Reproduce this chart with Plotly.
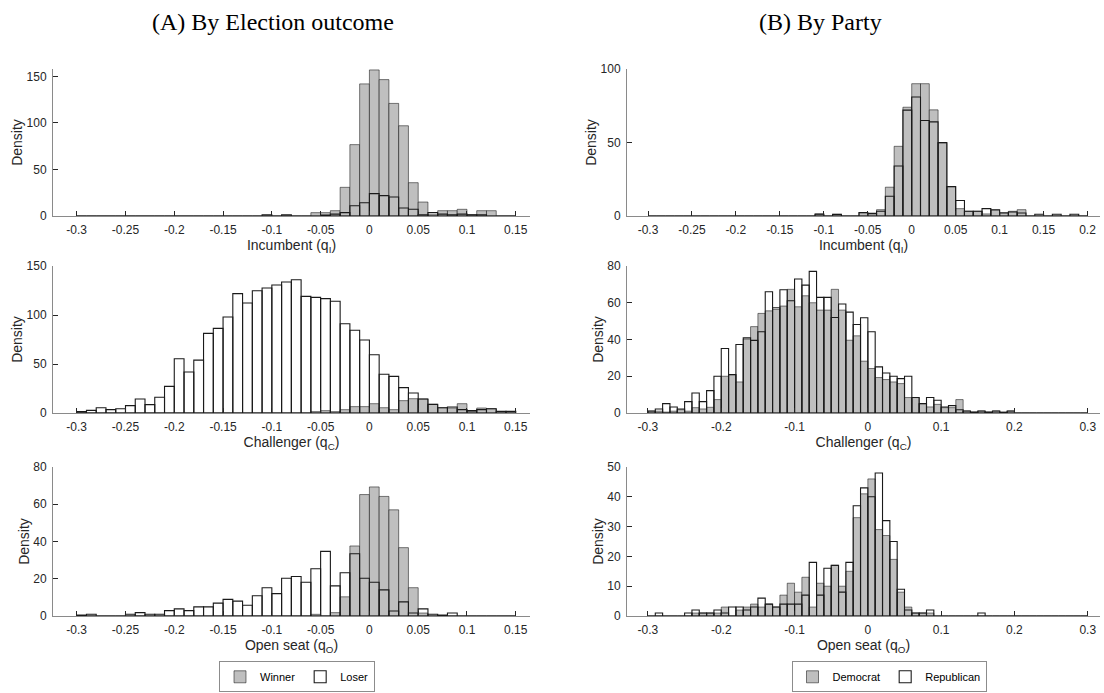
import numpy as np
import plotly.graph_objects as go

# ---------------- DATA ----------------
BIN_START = -0.3
BIN_WIDTH = 0.01

# Panel A: by election outcome (bins from -0.3 to 0.15)
a_inc_winner = [0]*24 + [3.6, 3.6, 5.7, 30.8, 76.7, 142, 157, 146.6, 121, 97, 35.8, 15,
                         1.4, 5.7, 5.7, 7.2, 1.4, 5.7, 5.7, 0, 0]
a_inc_loser = [0]*19 + [1.4, 0, 1.4, 0, 0, 0, 1.0, 2, 3.6, 11, 14.3, 24, 21.9, 20.4, 8.6, 7.2,
                        1.4, 3.6, 2, 1.4, 2, 1.4, 1.4, 0, 0, 0]
a_chal_winner = [0]*24 + [1.4, 2.4, 1.4, 3.4, 6.5, 6.5, 9.5, 5.4, 3.4, 12.6, 14.6, 14.3,
                          8.8, 5.4, 5.1, 9.5, 1.5, 5.1, 4.4, 0, 0]
a_chal_loser = [1.4, 2.7, 5.4, 3.4, 4.4, 7.5, 14.3, 8.5, 16, 27.2, 55.4, 41.8, 54, 81.3, 86.4,
                98, 121.8, 112.2, 124.8, 127.6, 130.6, 133.7, 136, 119, 118, 116.7, 114, 91,
                84.4, 74.5, 59.5, 39.5, 37.4, 25.9, 20.4, 14.3, 8.8, 5.4, 6.1, 3.4, 2.4, 3.4,
                4.4, 1.7, 1.7]
a_open_winner = [0]*24 + [0.9, 0, 1.8, 10.3, 37.6, 65.2, 69.3, 64.2, 57, 36.7, 15.2, 1.6] + [0]*9
a_open_loser = [0.5, 0.9, 0, 0, 0, 0.9, 1.8, 0.9, 0.9, 2.9, 3.8, 2.9, 4.9, 4.9, 6.9, 8.9, 8,
                5.8, 10.9, 15.2, 12, 20.3, 21.2, 18.1, 25.4, 34.7, 16.2, 23.2, 33.4, 20.3,
                18.1, 14, 2.7, 7.6, 1.6, 3.8, 0.9, 0.5, 1.6, 0, 0, 0, 0, 0, 0]

# Panel B: by party (incumbent bins -0.3..0.2, others -0.3..0.3)
b_inc_dem = [0]*19 + [1.3, 0, 1.1, 0, 0, 2.3, 2, 4.3, 19.6, 47.4, 74, 90, 90, 72.2, 49.5, 20,
                      5, 3.2, 3.2, 1.4, 4, 2.3, 3.2, 4.3, 0, 0, 0, 0, 0, 0, 0]
b_inc_rep = [0]*19 + [1.3, 0, 1.1, 0, 0, 2.3, 1.6, 3.2, 13.4, 34, 72, 81, 65, 64, 50, 20,
                      10.5, 3.2, 3.2, 5, 4.3, 2, 2.7, 2, 0, 1.2, 0, 1.2, 0, 1.2, 0]
b_chal_dem = [1, 1, 0.5, 1, 1.8, 1, 2.9, 2.2, 3.1, 7.3, 20, 20.9, 16.9, 40.2, 47, 54.2, 55.6,
              56.4, 58.2, 67.3, 57.8, 63.8, 60, 56, 56, 67.3, 56, 39.6, 42, 28.2, 24.2, 19.3,
              18.2, 16.9, 16, 8.4, 8.4, 5.1, 3.3, 4.7, 2.9, 2.9, 7.3, 1.1, 0.5, 1.1, 0.5, 1.1,
              0.4, 1.1] + [0]*10
b_chal_rep = [1.1, 2.2, 5.1, 3.3, 2.2, 6.2, 10.9, 6.2, 12.2, 20, 35.1, 20.9, 37.3, 40.9, 39.5,
              44.2, 66, 57.3, 67.1, 61.1, 72.9, 69.6, 77.1, 62.9, 62.9, 52, 59.3, 54.9, 48.2,
              51.8, 44.2, 25.1, 21.8, 20, 18.7, 20, 8.4, 5.1, 8.4, 6.9, 3.3, 4, 1.8, 1.1, 0.5,
              1.1, 0.5, 1.1, 0.4, 1.1] + [0]*10
b_open_dem = [0, 0, 0, 0, 0, 0, 1, 1, 1, 1, 3, 0, 2, 3, 4, 3, 4, 3, 7, 11, 8, 13, 3, 11, 10, 17,
              10, 15, 33, 41, 46, 29, 27, 19, 8, 3, 1, 1, 1] + [0]*21
b_open_rep = [0, 1, 0, 0, 0, 1, 2, 1, 1, 2, 1, 3, 3, 2, 3, 6, 4, 3, 4, 4, 4, 7, 18, 7, 16, 17,
              8, 18, 37, 43, 40, 48, 32, 25, 9, 2, 1, 1, 2, 0, 0, 0, 0, 0, 0, 1] + [0]*14

x_labels = ["Incumbent (q<sub>I</sub>)", "Challenger (q<sub>C</sub>)", "Open seat (q<sub>O</sub>)"]
ticks_a = ["-0.3", "-0.25", "-0.2", "-0.15", "-0.1", "-0.05", "0", "0.05", "0.1", "0.15"]
ticks_b1 = ["-0.3", "-0.25", "-0.2", "-0.15", "-0.1", "-0.05", "0", "0.05", "0.1", "0.15", "0.2"]
ticks_b = ["-0.3", "-0.2", "-0.1", "0", "0.1", "0.2", "0.3"]
titles = ["(A) By Election outcome", "(B) By Party"]
legend_a = ["Winner", "Loser"]
legend_b = ["Democrat", "Republican"]

# ---------------- LAYOUT GEOMETRY ----------------
W, H = 1104, 693
FONT = "Liberation Sans, Arial, Helvetica, sans-serif"
TXT = "#262626"
AXC = "#8a8a8a"
GRAY_FILL = "#bfbfbf"
GRAY_LINE = "rgba(0,0,0,0.5)"
WHITE_LINE = "#1a1a1a"

def xdom(l, r):
    return [l / W, r / W]

def ydom(top, bottom):
    return [1 - bottom / H, 1 - top / H]

rows = [(69, 216), (266, 413), (467, 616)]
cols = [(53, 530), (627, 1100)]
ystand = [0, 0]

def centers(n):
    return BIN_START + BIN_WIDTH * (np.arange(n) + 0.5)

def tickvals(labels):
    return [float(t) for t in labels]

XR_A = [-0.3243, 0.1646]
XR_B1 = [-0.3239, 0.2142]
XR_B = [-0.3286, 0.3167]

panels = [
    (0, 0, a_inc_winner, a_inc_loser, XR_A, ticks_a, [0, 158], 50, x_labels[0], legend_a, None),
    (0, 1, b_inc_dem, b_inc_rep, XR_B1, ticks_b1, [0, 100], 50, x_labels[0], legend_b, None),
    (1, 0, a_chal_winner, a_chal_loser, XR_A, ticks_a, [0, 150], 50, x_labels[1], legend_a, None),
    (1, 1, b_chal_dem, b_chal_rep, XR_B, ticks_b, [0, 80], 20, x_labels[1], legend_b, None),
    (2, 0, a_open_winner, a_open_loser, XR_A, ticks_a, [0, 80], 20, x_labels[2], legend_a, "legend"),
    (2, 1, b_open_dem, b_open_rep, XR_B, ticks_b, [0, 50], 10, x_labels[2], legend_b, "legend2"),
]

fig = go.Figure()
layout = dict(
    width=W, height=H,
    margin=dict(l=0, r=0, t=0, b=0),
    paper_bgcolor="white", plot_bgcolor="white",
    barmode="overlay",
    font=dict(family=FONT, color=TXT, size=12),
    showlegend=True,
)

for i, (r, c, gray, white, xr, xt, yr, ystep, xlab, names, leg) in enumerate(panels):
    n = i + 1
    xa = "x" if n == 1 else f"x{n}"
    ya = "y" if n == 1 else f"y{n}"
    for vals, name, fill, line, lw in [(gray, names[0], GRAY_FILL, GRAY_LINE, 1.0),
                                       (white, names[1], "rgba(255,255,255,0)", WHITE_LINE, 1.1)]:
        fig.add_trace(go.Bar(
            x=centers(len(vals)), y=vals, width=BIN_WIDTH,
            marker=dict(color=fill, line=dict(color=line, width=lw)),
            name=name, xaxis=xa, yaxis=ya,
            showlegend=leg is not None, legend=leg if leg else "legend",
            hoverinfo="x+y",
        ))
    xkey = "xaxis" if n == 1 else f"xaxis{n}"
    ykey = "yaxis" if n == 1 else f"yaxis{n}"
    layout[xkey] = dict(
        domain=xdom(*cols[c]), anchor=ya, range=xr,
        tickmode="array", tickvals=tickvals(xt), ticktext=xt,
        ticks="inside", ticklen=5, tickcolor=TXT, tickwidth=1,
        showline=True, linecolor=AXC, linewidth=1, mirror=False,
        showgrid=False, zeroline=False, automargin=False,
        tickfont=dict(family=FONT, size=12, color=TXT), ticklabelstandoff=3,
        title=dict(text=xlab, font=dict(family=FONT, size=14, color=TXT), standoff=2),
        fixedrange=True,
    )
    layout[ykey] = dict(
        domain=ydom(*rows[r]), anchor=xa, range=yr,
        tickmode="linear", tick0=0, dtick=ystep,
        ticks="inside", ticklen=5, tickcolor=TXT, tickwidth=1,
        showline=True, linecolor=AXC, linewidth=1,
        showgrid=False, zeroline=False, automargin=False,
        tickfont=dict(family=FONT, size=12, color=TXT), ticklabelstandoff=3,
        title=dict(text="Density", font=dict(family=FONT, size=14, color=TXT), standoff=ystand[c]),
        fixedrange=True,
    )

leg_common = dict(
    orientation="h", bgcolor="white", bordercolor="#8c8c8c", borderwidth=1,
    font=dict(family=FONT, size=11, color="#000000"), itemwidth=30,
    yanchor="bottom", xanchor="center", traceorder="normal", tracegroupgap=0,
)
layout["legend"] = dict(leg_common, x=297 / W, y=0.001)
layout["legend2"] = dict(leg_common, x=889 / W, y=0.001)

layout["annotations"] = [
    dict(text=titles[0], x=273 / W, y=1 - 22 / H, xref="paper", yref="paper",
         showarrow=False, xanchor="center", yanchor="middle",
         font=dict(family="Liberation Serif, Times New Roman, serif", size=24, color="#000000")),
    dict(text=titles[1], x=820 / W, y=1 - 22 / H, xref="paper", yref="paper",
         showarrow=False, xanchor="center", yanchor="middle",
         font=dict(family="Liberation Serif, Times New Roman, serif", size=24, color="#000000")),
]

fig.update_layout(**layout)
fig.write_html("out.html", config={"displayModeBar": False},
               post_script="document.body.style.margin='0px';")
